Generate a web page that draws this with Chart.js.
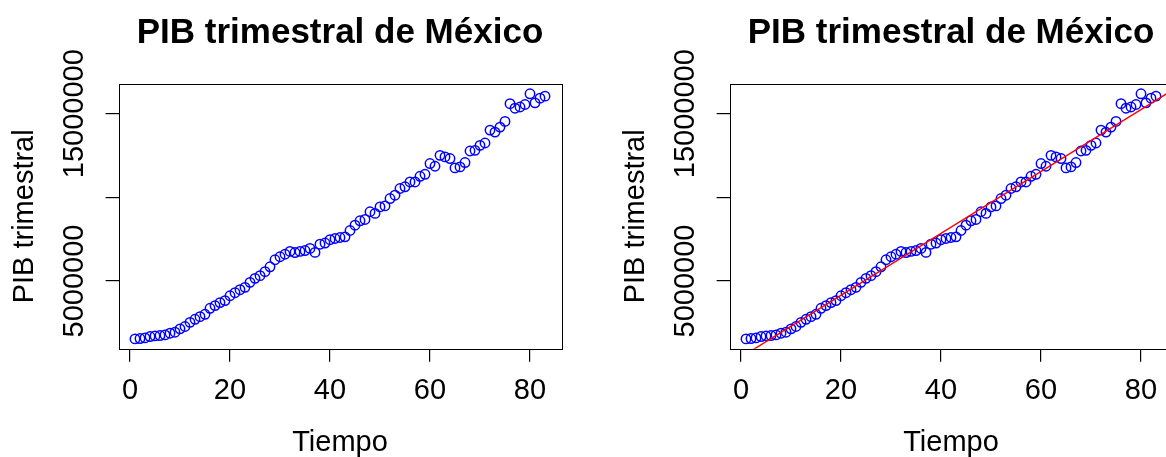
<!DOCTYPE html>
<html>
<head>
<meta charset="utf-8">
<script src="https://cdn.jsdelivr.net/npm/chart.js@4.4.1/dist/chart.umd.min.js"></script>
<style>
  html, body { margin: 0; padding: 0; background: #fff; overflow: hidden; width: 1166px; height: 457px; }
  .panel { position: absolute; top: 0; width: 611px; height: 457px; }
  #izq { left: 0; }
  #der { left: 611px; }
</style>
</head>
<body>
<div class="panel" id="izq"><canvas id="pibA" width="611" height="457"></canvas></div>
<div class="panel" id="der"><canvas id="pibB" width="611" height="457"></canvas></div>
<script>
const tiempo = [1, 2, 3, 4, 5, 6, 7, 8, 9, 10, 11, 12, 13, 14, 15, 16, 17, 18, 19, 20,
  21, 22, 23, 24, 25, 26, 27, 28, 29, 30, 31, 32, 33, 34, 35, 36, 37, 38, 39, 40,
  41, 42, 43, 44, 45, 46, 47, 48, 49, 50, 51, 52, 53, 54, 55, 56, 57, 58, 59, 60,
  61, 62, 63, 64, 65, 66, 67, 68, 69, 70, 71, 72, 73, 74, 75, 76, 77, 78, 79, 80,
  81, 82, 83];
const pib = [1540000, 1560000, 1600000, 1680000, 1720000, 1740000, 1780000, 1880000, 1940000, 2140000,
  2280000, 2530000, 2710000, 2870000, 3010000, 3370000, 3530000, 3710000, 3830000, 4120000,
  4300000, 4480000, 4620000, 4920000, 5160000, 5320000, 5560000, 5850000, 6270000, 6450000,
  6600000, 6770000, 6700000, 6770000, 6820000, 6950000, 6710000, 7200000, 7270000, 7470000,
  7540000, 7600000, 7640000, 8020000, 8340000, 8600000, 8680000, 9140000, 9040000, 9430000,
  9490000, 9930000, 10130000, 10530000, 10630000, 10920000, 10920000, 11260000, 11380000, 12020000,
  11860000, 12510000, 12420000, 12320000, 11760000, 11820000, 12080000, 12770000, 12810000, 13110000,
  13250000, 14020000, 13900000, 14200000, 14540000, 15600000, 15330000, 15400000, 15550000, 16190000,
  15650000, 15930000, 16050000];
const xTicks = [0, 20, 40, 60, 80];
const yTicks = [5000000, 10000000, 15000000];
const yLabels = ['5000000', '', '15000000'];
const titulo = 'PIB trimestral de México';
const xTitulo = 'Tiempo';
const yTitulo = 'PIB trimestral';

const FONT = '"Liberation Sans", Arial, Helvetica, sans-serif';

// R-style limits: data range plus 4% on each side
function limites(v) {
  const lo = Math.min(...v), hi = Math.max(...v), d = (hi - lo) * 0.04;
  return [lo - d, hi + d];
}
const [xMin, xMax] = limites(tiempo);
const [yMin, yMax] = limites(pib);

// least squares fit for the red line
const n = tiempo.length;
const mx = tiempo.reduce((a, b) => a + b, 0) / n;
const my = pib.reduce((a, b) => a + b, 0) / n;
let sxy = 0, sxx = 0;
for (let i = 0; i < n; i++) {
  sxy += (tiempo[i] - mx) * (pib[i] - my);
  sxx += (tiempo[i] - mx) ** 2;
}
const pendiente = sxy / sxx;
const intercepto = my - pendiente * mx;

const puntos = tiempo.map((t, i) => ({ x: t, y: pib[i] }));

const textoR = {
  id: 'textoR',
  afterDraw(chart) {
    const ctx = chart.ctx, a = chart.chartArea;
    const sx = chart.scales.x, sy = chart.scales.y;
    ctx.save();
    // box
    ctx.strokeStyle = '#000';
    ctx.lineWidth = 1;
    ctx.strokeRect(Math.round(a.left) + 0.5, Math.round(a.top) + 0.5,
      Math.round(a.right - a.left), Math.round(a.bottom - a.top));
    ctx.fillStyle = '#000';
    const cx = (a.left + a.right) / 2;
    // title
    ctx.font = 'bold 35px ' + FONT;
    ctx.textAlign = 'center';
    ctx.textBaseline = 'alphabetic';
    ctx.fillText(titulo, cx, 43);
    // x tick labels
    ctx.font = '29px ' + FONT;
    sx.ticks.forEach(t => ctx.fillText(String(t.value), sx.getPixelForValue(t.value), 399));
    ctx.fillText(xTitulo, cx, 451);
    // y tick labels (rotated, as in R)
    sy.ticks.forEach(t => {
      const lab = yLabels[yTicks.indexOf(t.value)];
      if (!lab) return;
      ctx.save();
      ctx.translate(83, sy.getPixelForValue(t.value));
      ctx.rotate(-Math.PI / 2);
      ctx.fillText(lab, 0, 0);
      ctx.restore();
    });
    ctx.save();
    ctx.translate(33, (a.top + a.bottom) / 2);
    ctx.rotate(-Math.PI / 2);
    ctx.fillText(yTitulo, 0, 0);
    ctx.restore();
    ctx.restore();
  }
};

function opciones() {
  const eje = {
    grid: { drawOnChartArea: false, drawTicks: true, tickLength: 13, color: '#000', lineWidth: 1.2 },
    border: { display: false },
    ticks: { display: false }
  };
  return {
    responsive: false,
    animation: false,
    devicePixelRatio: 1,
    layout: { padding: { top: 84, right: 49.6, left: 0, bottom: 0 } },
    plugins: { legend: { display: false }, tooltip: { enabled: false } },
    scales: {
      x: Object.assign({
        type: 'linear', min: xMin, max: xMax,
        afterBuildTicks: s => { s.ticks = xTicks.map(v => ({ value: v })); },
        afterFit: s => { s.height = 108.3; }
      }, eje),
      y: Object.assign({
        type: 'linear', min: yMin, max: yMax,
        afterBuildTicks: s => { s.ticks = yTicks.map(v => ({ value: v })); },
        afterFit: s => { s.width = 118.6; }
      }, eje)
    }
  };
}

const serie = {
  type: 'scatter',
  data: puntos,
  showLine: false,
  pointStyle: 'circle',
  pointRadius: 4.7,
  pointBorderWidth: 1.5,
  pointBackgroundColor: 'rgba(0,0,0,0)',
  pointBorderColor: '#0000FF',
  borderColor: '#0000FF'
};

// LEFT
new Chart(document.getElementById('pibA'), {
  type: 'scatter',
  data: { datasets: [serie] },
  options: opciones(),
  plugins: [textoR]
});

// RIGHT, with regression line
new Chart(document.getElementById('pibB'), {
  type: 'scatter',
  data: {
    datasets: [{
      type: 'line',
      data: [{ x: xMin, y: intercepto + pendiente * xMin }, { x: xMax, y: intercepto + pendiente * xMax }],
      showLine: true,
      borderColor: '#FF0000',
      borderWidth: 1.4,
      pointRadius: 0,
      fill: false
    }, Object.assign({}, serie)]
  },
  options: opciones(),
  plugins: [textoR]
});
</script>
</body>
</html>
